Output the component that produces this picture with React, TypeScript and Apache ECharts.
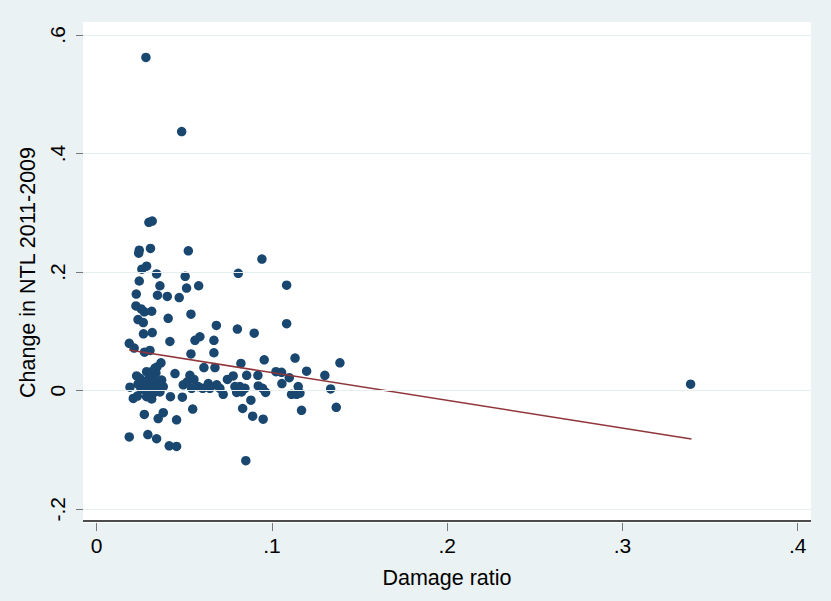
import React, { useEffect, useRef } from "react";
import * as echarts from "echarts";

const xTicks = [0, 0.1, 0.2, 0.3, 0.4];
const yTicks = [-0.2, 0, 0.2, 0.4, 0.6];
const xRange = [-0.0078, 0.4076];
const yRange = [-0.2231, 0.6218];

const damageRatio = [
  0.0281, 0.0485, 0.0298, 0.0317, 0.0243, 0.0240, 0.0307, 0.0523, 0.0285, 0.0258,
  0.0342, 0.0505, 0.0808, 0.0943, 0.1084, 0.0243, 0.0361, 0.0582, 0.0513, 0.0226,
  0.0347, 0.0403, 0.0471, 0.0224, 0.0254, 0.0272, 0.0314, 0.0538, 0.0408, 0.0236,
  0.0266, 0.0683, 0.0803, 0.0899, 0.1084, 0.0267, 0.0317, 0.0418, 0.0186, 0.0214,
  0.0561, 0.0589, 0.0669, 0.0273, 0.0304, 0.0538, 0.0669, 0.0675, 0.0823, 0.0956,
  0.1132, 0.1388, 0.0612, 0.0367, 0.0344, 0.0447, 0.1198, 0.1302, 0.0746, 0.0779,
  0.0856, 0.0920, 0.1023, 0.1055, 0.1099, 0.1057, 0.0532, 0.0555, 0.0517, 0.0494,
  0.0542, 0.0580, 0.0605, 0.0637, 0.0646, 0.0685, 0.0722, 0.0789, 0.0817, 0.0846,
  0.0799, 0.0827, 0.0922, 0.0947, 0.0964, 0.1150, 0.1112, 0.1141, 0.1160, 0.1335,
  0.0880, 0.0833, 0.0890, 0.0950, 0.1169, 0.1367, 0.0851, 0.0421, 0.0489, 0.0548,
  0.0272, 0.0380, 0.0351, 0.0456, 0.0186, 0.0292, 0.0342, 0.0414, 0.0456, 0.3389,
  0.0228, 0.0285, 0.0323, 0.0266, 0.0304, 0.0371, 0.0380, 0.0276, 0.0323, 0.0285,
  0.0190, 0.0314, 0.0209, 0.0232, 0.0333, 0.0247, 0.0236, 0.0253, 0.0298, 0.0338,
  0.0350, 0.0338, 0.0293, 0.0361, 0.0315, 0.0703
];

const ntlChange = [
  0.562, 0.437, 0.284, 0.286, 0.237, 0.232, 0.240, 0.236, 0.210, 0.205,
  0.197, 0.193, 0.198, 0.222, 0.178, 0.185, 0.177, 0.177, 0.173, 0.163,
  0.161, 0.159, 0.157, 0.143, 0.138, 0.133, 0.134, 0.129, 0.122, 0.120,
  0.115, 0.110, 0.104, 0.097, 0.113, 0.096, 0.098, 0.083, 0.080, 0.072,
  0.085, 0.091, 0.085, 0.065, 0.068, 0.062, 0.064, 0.039, 0.046, 0.052,
  0.055, 0.047, 0.039, 0.047, 0.040, 0.029, 0.033, 0.026, 0.019, 0.025,
  0.026, 0.026, 0.032, 0.031, 0.022, 0.012, 0.026, 0.019, 0.015, 0.010,
  0.004, 0.007, 0.004, 0.012, 0.004, 0.010, -0.006, 0.007, 0.007, 0.004,
  -0.003, -0.002, 0.008, 0.004, -0.003, 0.007, -0.006, -0.006, -0.004, 0.003,
  -0.016, -0.030, -0.043, -0.048, -0.033, -0.028, -0.118, -0.010, -0.011, -0.031,
  -0.040, -0.037, -0.047, -0.049, -0.078, -0.074, -0.081, -0.093, -0.094, 0.011,
  0.025, 0.032, 0.024, 0.015, 0.012, 0.018, 0.007, 0.001, -0.004, -0.010,
  0.006, -0.014, -0.013, -0.009, 0.038, 0.021, 0.011, 0.003, 0.021, 0.030,
  0.016, 0.005, 0.006, -0.002, 0.032, 0.004
];

const fitX = [0.0186, 0.3394];
const fitY = [0.0686, -0.0815];

const FONT = "Liberation Sans, Arial, sans-serif";

function fmt(v: number): string {
  if (Math.abs(v) < 1e-9) return "0";
  return v.toFixed(1).replace("0.", ".");
}

export default function App() {
  const ref = useRef<HTMLDivElement>(null);
  useEffect(() => {
    if (!ref.current) return;
    const chart = echarts.init(ref.current, undefined, { renderer: "svg" });
    const points = damageRatio.map((x, i) => [x, ntlChange[i]]);
    const fit = fitX.map((x, i) => [x, fitY[i]]);
    chart.setOption({
      animation: false,
      backgroundColor: "#eaf2f3",
      grid: { left: 83, top: 22, width: 728, height: 501, show: true, backgroundColor: "#ffffff", borderWidth: 0 },
      xAxis: {
        type: "value",
        min: xRange[0],
        max: xRange[1],
        name: "Damage ratio",
        nameLocation: "middle",
        nameGap: 44,
        nameTextStyle: { fontFamily: FONT, fontSize: 21.5, color: "#000" },
        axisLine: { show: false, onZero: false },
        axisTick: { show: true, inside: false, length: 8, lineStyle: { color: "#777" }, customValues: xTicks },
        axisLabel: { fontFamily: FONT, fontSize: 21, color: "#000", margin: 12, customValues: xTicks, formatter: (v: number) => fmt(v) },
        splitLine: { show: false },
      },
      yAxis: {
        type: "value",
        min: yRange[0],
        max: yRange[1],
        name: "Change in NTL 2011-2009",
        nameLocation: "middle",
        nameGap: 44,
        nameTextStyle: { fontFamily: FONT, fontSize: 21.5, color: "#000" },
        axisLine: { show: false, onZero: false },
        axisTick: { show: true, inside: false, length: 7, lineStyle: { color: "#777" }, customValues: yTicks },
        axisLabel: { fontFamily: FONT, fontSize: 21, color: "#000", margin: 15, rotate: 90, customValues: yTicks, formatter: (v: number) => fmt(v) },
        splitLine: { show: false },
      },
      series: [
        {
          type: "scatter",
          data: [],
          z: 1,
          silent: true,
          markLine: {
            silent: true,
            symbol: ["none", "none"],
            label: { show: false },
            lineStyle: { color: "#e6eef0", width: 1.2, type: "solid" },
            data: yTicks.map((v) => ({ yAxis: v })),
          },
        },
        {
          type: "scatter",
          data: points,
          symbol: "circle",
          symbolSize: 9.5,
          z: 3,
          itemStyle: { color: "#1a476f", opacity: 1 },
        },
        {
          type: "line",
          data: fit,
          z: 4,
          symbol: "none",
          lineStyle: { color: "#90353b", width: 1.6 },
        },
        {
          type: "scatter",
          data: [],
          z: 6,
          silent: true,
          markLine: {
            silent: true,
            symbol: ["none", "none"],
            label: { show: false },
            lineStyle: { color: "#111111", width: 1.5, type: "solid" },
            data: [{ xAxis: xRange[0] + 0.0004 }, { yAxis: yRange[0] + 0.0008 }],
          },
        },
      ],
    });
    return () => chart.dispose();
  }, []);
  return <div ref={ref} style={{ position: "fixed", left: 0, top: 0, width: 831, height: 601 }} />;
}
